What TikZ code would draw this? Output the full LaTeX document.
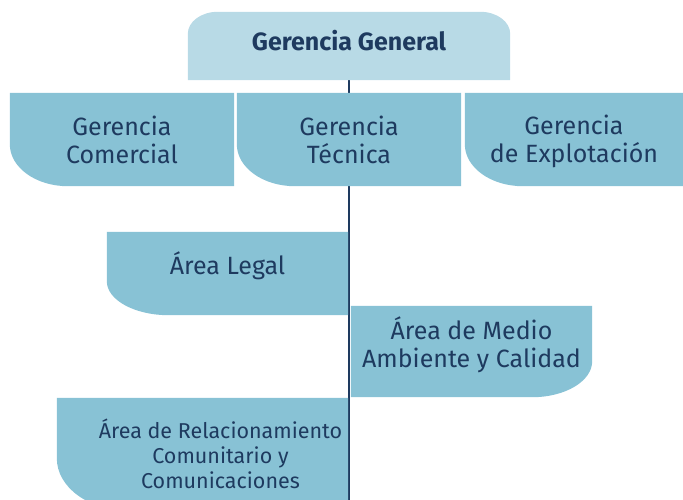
\documentclass[tikz,border=0pt]{standalone}
\usepackage{fontspec}
\setmainfont{Fira Sans}
\usetikzlibrary{backgrounds}
\definecolor{boxblue}{HTML}{88C2D5}
\definecolor{paleblue}{HTML}{B8DAE6}
\definecolor{navy}{HTML}{1E3A5F}

\begin{document}
\begin{tikzpicture}[x=1pt,y=-1pt,
unit/.style={font=\fontsize{25}{28}\selectfont, text=navy, align=center, inner sep=0pt},
area/.style={unit, font=\fontsize{21.5}{25}\selectfont},
lift/.style={text depth=#1},]
\useasboundingbox (0,0) rectangle (683,500);
\clip (0,0) rectangle (683,500);

% units
\node[unit, font=\bfseries\fontsize{25}{28}\selectfont, lift=12pt,
      minimum width=322pt, minimum height=68pt] (gg) at (349,46) {Gerencia General};
\node[unit, minimum width=224pt, minimum height=93pt] (com) at (122,139.5) {Gerencia\\Comercial};
\node[unit, minimum width=224pt, minimum height=93pt] (tec) at (349,139.5) {Gerencia\\Técnica};
\node[unit, lift=1pt, minimum width=218pt, minimum height=93pt] (exp) at (574,139.5) {Gerencia\\de Explotación};
\node[unit, lift=21pt, minimum width=241pt, minimum height=83pt] (leg) at (227.5,273.5) {Área Legal};
\node[unit, lift=18pt, minimum width=241pt, minimum height=91pt] (med) at (471.5,351.5) {Área de Medio\\Ambiente y Calidad};
\node[area, minimum width=291pt, minimum height=112pt, xshift=18pt] (rel) at (202.5,454) {Área de Relacionamiento\\Comunitario y\\Comunicaciones};
\coordinate (end) at (349,500);

\begin{scope}[on background layer]
\draw[navy, line width=1.5pt] (gg.south) -- (gg.south |- end);
\fill[paleblue] (gg.south west) -- ([yshift=-22pt]gg.north west) arc[start angle=180, end angle=90, x radius=30pt, y radius=22pt]
  -- ([xshift=-30pt]gg.north east) arc[start angle=90, end angle=0, x radius=30pt, y radius=22pt] -- (gg.south east) -- cycle;
\foreach \unit in {com,tec,exp}
  \fill[boxblue] (\unit.north west) -- ([yshift=42pt]\unit.south west)
    arc[start angle=180, end angle=270, x radius=58pt, y radius=42pt] -- (\unit.south east) -- (\unit.north east) -- cycle;
\fill[boxblue] (leg.north west) -- ([yshift=34pt]leg.south west)
  arc[start angle=180, end angle=270, x radius=62pt, y radius=34pt] -- (leg.south east) -- (leg.north east) -- cycle;
\fill[boxblue] (med.north west) -- (med.north east) -- ([yshift=36pt]med.south east)
  arc[start angle=0, end angle=-90, x radius=60pt, y radius=36pt] -- (med.south west) -- cycle;
\fill[boxblue] ([xshift=-18pt]rel.north west) -- ([xshift=-18pt,yshift=52pt]rel.south west)
  arc[start angle=180, end angle=270, x radius=70pt, y radius=52pt] -- ([xshift=-18pt]rel.south east) -- ([xshift=-18pt]rel.north east) -- cycle;
\end{scope}
\end{tikzpicture}
\end{document}
